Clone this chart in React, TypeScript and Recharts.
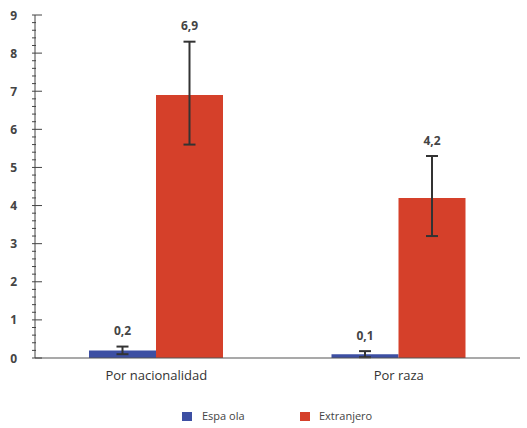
import React from "react";
import { BarChart, Bar, XAxis, YAxis, ErrorBar, LabelList, Legend } from "recharts";

const categories = ["Por nacionalidad", "Por raza"];
const espanolaValues = [0.2, 0.1];
const extranjeroValues = [6.9, 4.2];
const espanolaErrors: [number, number][] = [[0.1, 0.1], [0.08, 0.08]];
const extranjeroErrors: [number, number][] = [[1.3, 1.4], [1.0, 1.1]];
const yMajorTicks = [0, 1, 2, 3, 4, 5, 6, 7, 8, 9];
const yMinorPerMajor = 5;

const seriesNames = ["Espa ola", "Extranjero"];
const colors = ["#3d4fa3", "#d5402a"];

const data = categories.map((c, i) => ({
  name: c,
  esp: espanolaValues[i],
  ext: extranjeroValues[i],
  espErr: espanolaErrors[i],
  extErr: extranjeroErrors[i],
}));

const yTicks: number[] = [];
yMajorTicks.forEach((t, i) => {
  if (i < yMajorTicks.length - 1) {
    for (let k = 0; k < yMinorPerMajor; k++) {
      yTicks.push(Number((t + k / yMinorPerMajor).toFixed(2)));
    }
  } else {
    yTicks.push(t);
  }
});

const FONT = "'Open Sans', 'Noto Sans', sans-serif";

const YTick = (props: any) => {
  const { x, y, payload } = props;
  const v = payload.value;
  const major = Math.abs(v - Math.round(v)) < 1e-6;
  return (
    <g>
      {major ? (
        <line x1={x - 3} x2={x + 7} y1={y} y2={y} stroke="#444" strokeWidth={1} />
      ) : (
        <line x1={x - 3} x2={x + 1} y1={y} y2={y} stroke="#444" strokeWidth={1} />
      )}
      {major && (
        <text
          x={x - 18}
          y={y}
          textAnchor="end"
          dominantBaseline="central"
          fontSize={12}
          fontWeight={700}
          fill="#444"
          fontFamily={FONT}
        >
          {v}
        </text>
      )}
    </g>
  );
};

const makeLabel = (errs: [number, number][]) => (props: any) => {
  const vb = props.viewBox ?? props;
  const { x, y, width, height } = vb;
  const { value, index } = props;
  const pxPerUnit = value ? height / value : 0;
  const top = y - errs[index][1] * pxPerUnit - 16;
  return (
    <text
      x={x + width / 2}
      y={top}
      textAnchor="middle"
      dominantBaseline="central"
      fontSize={12}
      fontWeight={700}
      fill="#444"
      fontFamily={FONT}
    >
      {String(value).replace(".", ",")}
    </text>
  );
};

const LegendContent = () => (
  <div style={{ position: "relative", width: 527, height: 20, fontFamily: FONT, fontSize: 11, color: "#444" }}>
    <div style={{ position: "absolute", left: 182, top: 7, width: 10, height: 9, background: colors[0] }} />
    <span style={{ position: "absolute", left: 202, top: 3, lineHeight: "16px" }}>{seriesNames[0]}</span>
    <div style={{ position: "absolute", left: 300, top: 7, width: 10, height: 9, background: colors[1] }} />
    <span style={{ position: "absolute", left: 319, top: 3, lineHeight: "16px" }}>{seriesNames[1]}</span>
  </div>
);

export default function App() {
  return (
    <div style={{ position: "absolute", left: 0, top: 0, background: "#fff" }}>
      <BarChart
        width={527}
        height={428}
        data={data}
        margin={{ top: 15, right: 7, left: 0, bottom: 40 }}
        barGap={0}
      >
        <XAxis
          dataKey="name"
          tickLine={false}
          tickSize={0}
          tickMargin={13}
          height={30}
          axisLine={{ stroke: "#555", strokeWidth: 1.2 }}
          tick={{ fontSize: 13, fill: "#333", fontFamily: FONT }}
        />
        <YAxis
          domain={[0, 9]}
          ticks={yTicks}
          interval={0}
          width={35}
          tickLine={false}
          tickSize={0}
          tickMargin={0}
          axisLine={{ stroke: "#444", strokeWidth: 1 }}
          tick={<YTick />}
        />
        <Legend
          verticalAlign="middle"
          align="center"
          layout="horizontal"
          wrapperStyle={{ top: 405, left: 0, width: 527, height: 20 }}
          content={<LegendContent />}
        />
        <Bar dataKey="esp" name={seriesNames[0]} fill={colors[0]} barSize={67} isAnimationActive={false}>
          <ErrorBar dataKey="espErr" width={6} stroke="#333" strokeWidth={2} direction="y" />
          <LabelList dataKey="esp" content={makeLabel(espanolaErrors)} />
        </Bar>
        <Bar dataKey="ext" name={seriesNames[1]} fill={colors[1]} barSize={67} isAnimationActive={false}>
          <ErrorBar dataKey="extErr" width={6} stroke="#333" strokeWidth={2} direction="y" />
          <LabelList dataKey="ext" content={makeLabel(extranjeroErrors)} />
        </Bar>
      </BarChart>
    </div>
  );
}
